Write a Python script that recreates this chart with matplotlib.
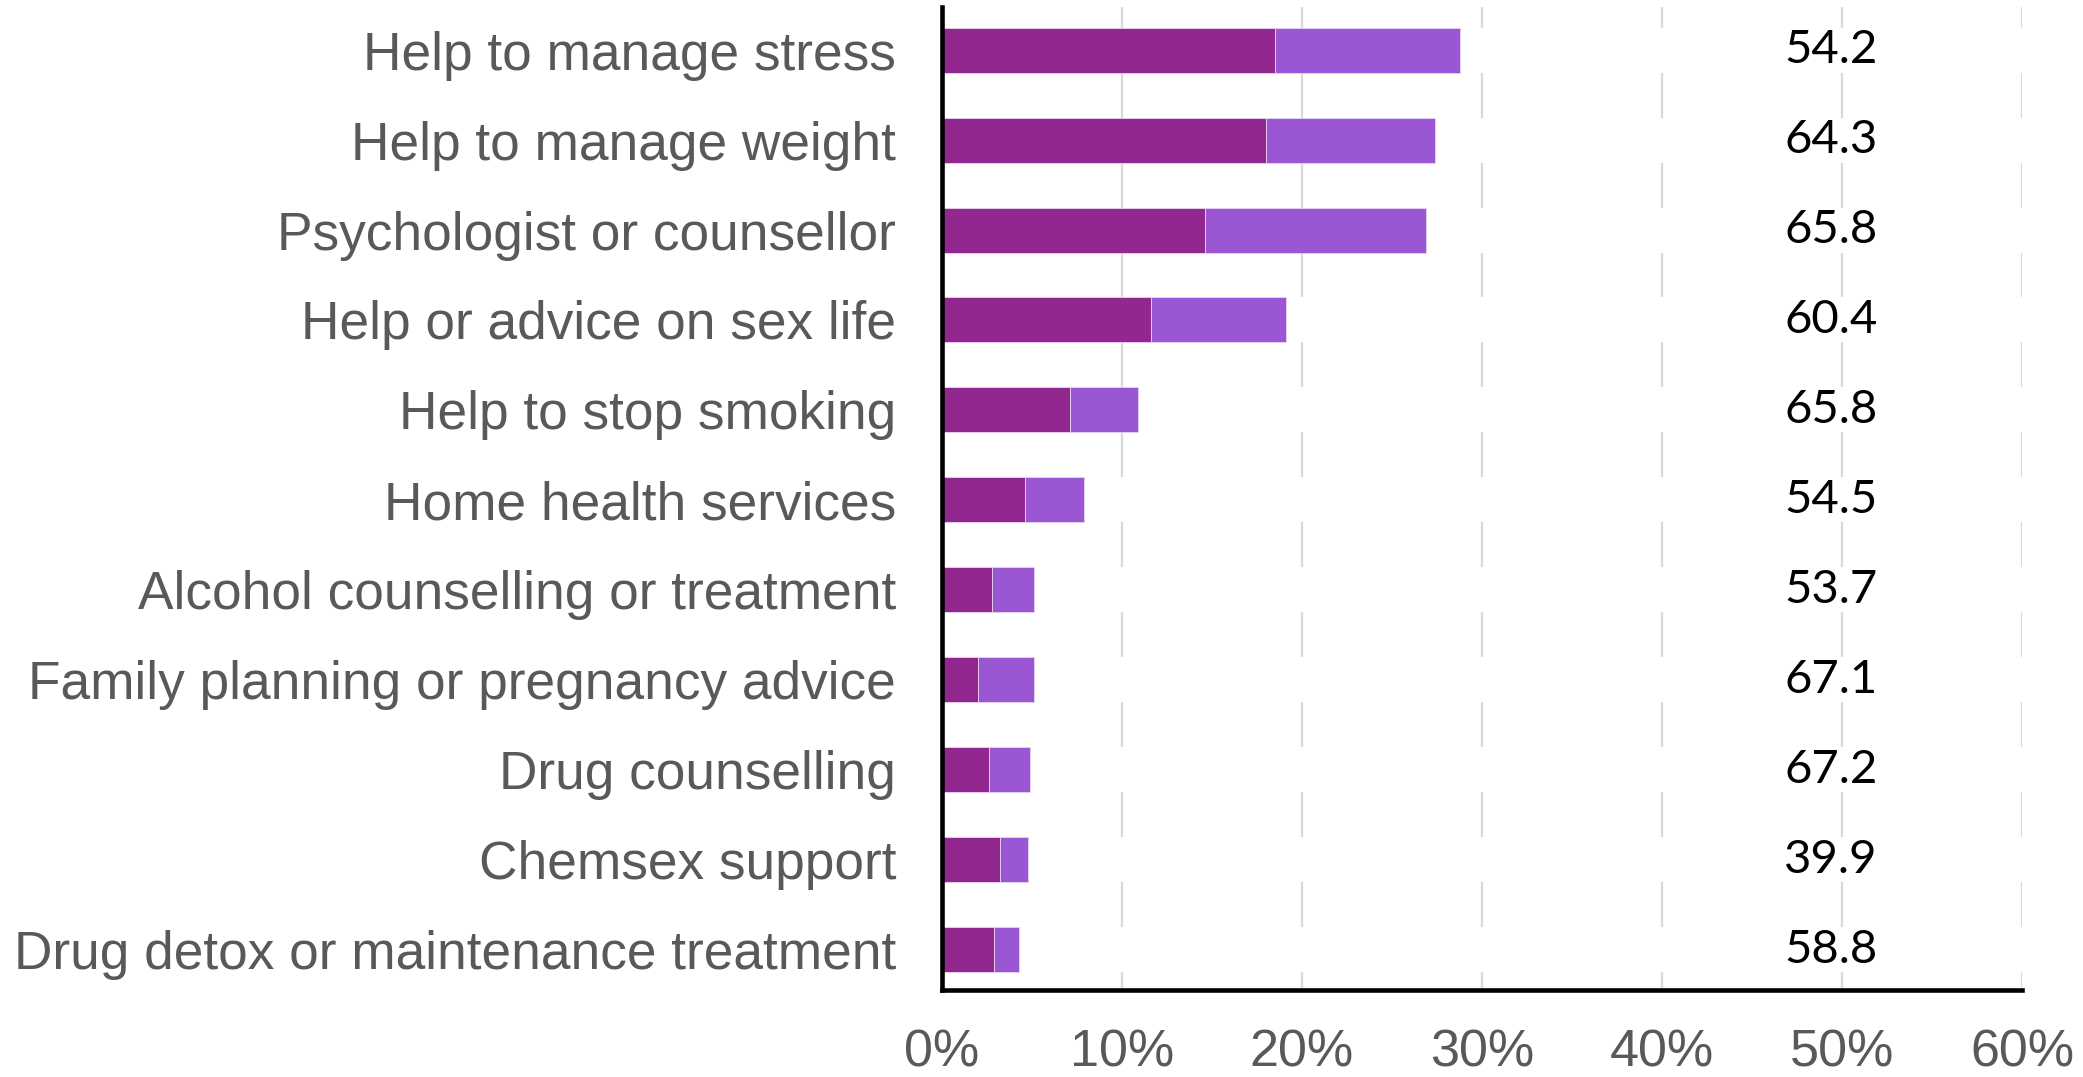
import matplotlib.pyplot as plt
import numpy as np

categories = ['Help to manage stress', 'Help to manage weight', 'Psychologist or counsellor',
              'Help or advice on sex life', 'Help to stop smoking', 'Home health services',
              'Alcohol counselling or treatment', 'Family planning or pregnancy advice',
              'Drug counselling', 'Chemsex support', 'Drug detox or maintenance treatment']
# percent, first segment and second segment
part_a = [18.5, 18.0, 14.6, 11.6, 7.1, 4.6, 2.8, 2.0, 2.6, 3.2, 2.9]
part_b = [10.3, 9.4, 12.3, 7.5, 3.8, 3.3, 2.3, 3.1, 2.3, 1.6, 1.4]
side_values = ['54.2', '64.3', '65.8', '60.4', '65.8', '54.5', '53.7', '67.1', '67.2', '39.9', '58.8']
xticks = [0, 10, 20, 30, 40, 50, 60]

dark = '#92278F'
light = '#9B57D3'

fig = plt.figure(figsize=(20.83, 10.77), dpi=100)
ax = fig.add_axes([0.4522, 0.0808, 0.5185, 0.9127])

y = np.arange(len(categories))
h = 0.5

ax.set_axisbelow(True)
ax.grid(axis='x', color='#d9d9d9', linewidth=1.6, zorder=0)
ax.grid(axis='y', visible=False)

# white bands hide the grid behind each row
ax.barh(y, xticks[-1], height=h, color='white', zorder=1)
ax.barh(y, part_a, height=h, color=dark, edgecolor='#e8d4f0', linewidth=0.6, zorder=2)
ax.barh(y, part_b, left=part_a, height=h, color=light, edgecolor='#e8d4f0', linewidth=0.6, zorder=2)

for yi, v in zip(y, side_values):
    ax.text(46.8, yi, v, va='center', ha='left', fontsize=34, family='Lato', color='black', zorder=3)

ax.set_xlim(0, 60)
ax.set_ylim(10.45, -0.48)
ax.set_xticks(xticks)
ax.set_xticklabels([f'{t}%' for t in xticks], fontsize=37.5, color='#595959', family='Liberation Sans')
ax.set_yticks(y)
ax.set_yticklabels(categories, fontsize=38.3, color='#595959', family='Liberation Sans')
ax.tick_params(axis='both', length=0)
ax.tick_params(axis='x', pad=28)
ax.tick_params(axis='y', pad=33)

for s in ['top', 'right']:
    ax.spines[s].set_visible(False)
for s in ['left', 'bottom']:
    ax.spines[s].set_linewidth(3.3)
    ax.spines[s].set_color('black')
    ax.spines[s].set_zorder(4)

fig.savefig('out.png', dpi=100, facecolor='white')
